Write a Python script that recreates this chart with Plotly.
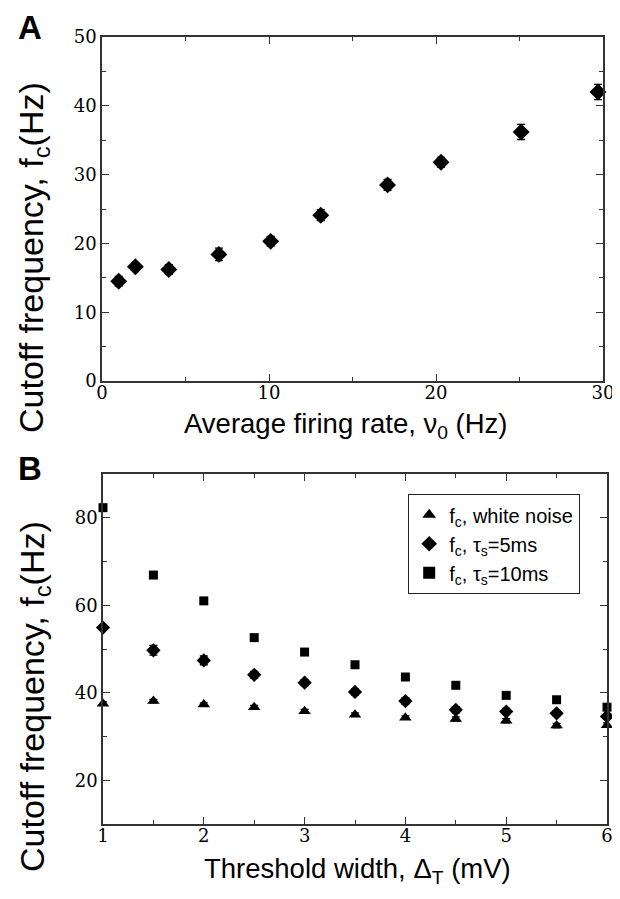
import plotly.graph_objects as go

# Panel A data
rate_a = [1.0, 2.0, 4.0, 7.0, 10.1, 13.1, 17.1, 20.3, 25.1, 29.7]
fc_a = [14.5, 16.6, 16.2, 18.4, 20.3, 24.1, 28.5, 31.8, 36.2, 42.0]
err_a = [0.7, 0.5, 0.7, 0.9, 0.7, 0.8, 0.8, 0.7, 1.1, 1.1]

# Panel B data
width_b = [1.0, 1.5, 2.0, 2.5, 3.0, 3.5, 4.0, 4.5, 5.0, 5.5, 6.0]
fc_white = [37.5, 38.1, 37.3, 36.7, 35.8, 35.0, 34.3, 34.0, 33.6, 32.5, 32.6]
err_white = [0.4, 0.4, 0.4, 0.4, 0.4, 0.4, 0.4, 0.5, 0.5, 0.5, 0.5]
fc_5ms = [54.9, 49.7, 47.4, 44.1, 42.3, 40.2, 38.1, 36.1, 35.7, 35.3, 34.6]
err_5ms = [0.0, 1.1, 1.0, 0.8, 0.7, 0.7, 0.7, 0.7, 0.7, 0.6, 0.6]
fc_10ms = [82.3, 66.9, 61.0, 52.6, 49.3, 46.4, 43.6, 41.7, 39.4, 38.4, 36.7]
err_10ms = [0.5, 0.5, 0.5, 0.5, 0.5, 0.5, 0.5, 0.5, 0.5, 0.5, 0.5]

legend_names = ["f<sub>c</sub>, white noise",
                "f<sub>c</sub>, τ<sub>s</sub>=5ms",
                "f<sub>c</sub>, τ<sub>s</sub>=10ms"]

W, H = 620, 899
def px_x(p):
    return p / W
def px_y(p):
    return 1 - p / H

SERIF = "DejaVu Serif"
SANS = "Liberation Sans"
TICKFONT = dict(family=SERIF, size=18, color="black")
XTITLEFONT = dict(family=SANS, size=27.5, color="black")
YTITLEFONT = dict(family=SANS, size=34, color="black")
AXCOL = "#333333"

fig = go.Figure()

def ebar(arr):
    return dict(type="data", array=arr, visible=True, color="black", thickness=1.3, width=4)

fig.add_trace(go.Scatter(x=rate_a, y=fc_a, mode="markers", error_y=ebar(err_a),
                         marker=dict(symbol="diamond", size=13, color="black"),
                         xaxis="x", yaxis="y", showlegend=False, cliponaxis=False))

fig.add_trace(go.Scatter(x=width_b, y=fc_white, mode="markers", error_y=ebar(err_white),
                         marker=dict(symbol="triangle-up", size=11, color="black"),
                         name=legend_names[0],
                         xaxis="x2", yaxis="y2", cliponaxis=False))
fig.add_trace(go.Scatter(x=width_b, y=fc_5ms, mode="markers", error_y=ebar(err_5ms),
                         marker=dict(symbol="diamond", size=11, color="black"),
                         name=legend_names[1],
                         xaxis="x2", yaxis="y2", cliponaxis=False))
fig.add_trace(go.Scatter(x=width_b, y=fc_10ms, mode="markers", error_y=ebar(err_10ms),
                         marker=dict(symbol="square", size=9, color="black"),
                         name=legend_names[2],
                         xaxis="x2", yaxis="y2", cliponaxis=False))

def axis(domain, rng, dtick, mdtick, anchor, tick0=0, standoff=0):
    return dict(domain=domain, range=rng, dtick=dtick, tick0=tick0, anchor=anchor,
                automargin=False, ticklabelstandoff=standoff,
                showline=True, linecolor=AXCOL, linewidth=1.5, mirror="ticks",
                ticks="inside", ticklen=7, tickwidth=1.2, tickcolor=AXCOL,
                minor=dict(dtick=mdtick, ticks="inside", ticklen=4, tickwidth=1.2, tickcolor=AXCOL),
                showgrid=False, zeroline=False, tickfont=TICKFONT)

def label(text, x, y, font, angle=0, **kw):
    d = dict(text=text, x=px_x(x), y=px_y(y), xref="paper", yref="paper",
             xanchor="center", yanchor="middle", showarrow=False,
             textangle=angle, font=font)
    d.update(kw)
    return d

PANELFONT = dict(family="Liberation Sans", size=33, color="black")

fig.update_layout(
    width=W, height=H, margin=dict(l=0, r=0, t=0, b=0),
    paper_bgcolor="white", plot_bgcolor="white",
    font=dict(family=SERIF),
    xaxis=axis([px_x(94), px_x(595)], [0, 30], 10, 5, "y", standoff=-5),
    yaxis=axis([px_y(373), px_y(29)], [0, 50], 10, 5, "x"),
    xaxis2=axis([px_x(95), px_x(599)], [1, 6], 1, 0.5, "y2", tick0=1, standoff=-5),
    yaxis2=axis([px_y(816), px_y(466)], [10, 90], 20, 10, "x2", tick0=0),
    legend=dict(x=px_x(400), y=px_y(486), xanchor="left", yanchor="top",
                bordercolor="#222222", borderwidth=1.2, bgcolor="white",
                font=dict(family=SANS, size=20, color="black"),
                itemsizing="constant", tracegroupgap=0),
    annotations=[
        label("<b>A</b>", 22, 3, PANELFONT, yanchor="top", height=28, valign="middle"),
        label("<b>B</b>", 22, 444, PANELFONT, yanchor="top", height=28, valign="middle"),
        label("Cutoff frequency, f<sub>c</sub>(Hz)", 26, 250, YTITLEFONT, -90),
        label("Cutoff frequency, f<sub>c</sub>(Hz)", 26, 689, YTITLEFONT, -90),
        label("Average firing rate, ν<sub>0</sub> (Hz)", 338, 417, XTITLEFONT),
        label("Threshold width, Δ<sub>T</sub> (mV)", 349, 862, XTITLEFONT),
    ],
)

fig.write_html("out.html")
